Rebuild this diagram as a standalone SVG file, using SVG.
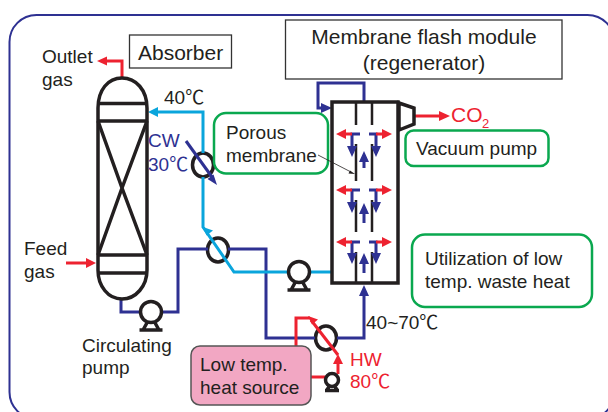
<svg xmlns="http://www.w3.org/2000/svg" width="608" height="412" viewBox="0 0 608 412">
<style>
text{font-family:"Liberation Sans","Noto Sans CJK JP",Arial,sans-serif;font-size:19px;fill:#231f20}
.t{font-size:21px}
.b{fill:none;stroke:#231f20;stroke-width:3.500}
.n{fill:none;stroke:#2e3192;stroke-width:3}
.c{fill:none;stroke:#0aa5dc;stroke-width:3}
.r{fill:none;stroke:#ed2230;stroke-width:3}
.g{fill:#fff;stroke:#0aa84f;stroke-width:2.500}
.nf{fill:#2e3192}.cf{fill:#0aa5dc}.rf{fill:#ed2230}
.box{fill:#fff;stroke:#333;stroke-width:1.300}
.nt{fill:#2e3192}.rt{fill:#ed2230}
.x{fill:#fff;stroke:#231f20;stroke-width:3.500}
</style>
<defs>
<g id="pump"><path d="M-8 18L-3 9M8 18L3 9M-11.500 18H11.500" class="b"/><circle r="10.500" class="x"/></g>
</defs>
<rect x="9.500" y="15" width="605" height="404" rx="27" fill="none" stroke="#2e3192" stroke-width="2"/>
<g id="exchanger-cw"><ellipse cx="203" cy="165" rx="10.500" ry="12" class="x"/></g>
<g id="exchanger-mid"><ellipse cx="218" cy="250" rx="10.500" ry="12" class="x"/></g>
<g id="exchanger-hw"><ellipse cx="326" cy="338" rx="10.500" ry="12" class="x"/></g>
<g id="connectors">
<path class="r" d="M122 79V61H104"/><path class="rf" d="M97 61l10-4.500v9z"/>
<path class="r" d="M66 263H88"/><path class="rf" d="M96 263l-10-5v10z"/>
<path class="n" d="M121 299V312H178V249H208M228 249H266V338H315M337 338H364V294"/><path class="nf" d="M364 285l-5 11h10z"/>
<path class="c" d="M203 153V112H155M203 177V227L234 272H332"/><path class="cf" d="M148 112l10-5v10z"/><path class="cf" d="M203 227l10 3.500-6.500 5z"/>
<path class="n" d="M186 141L212 177"/><path class="nf" d="M217 185l-9.500-6 6-4.500z"/>
<path class="n" d="M364 101V83H318V108H325"/><path class="nf" d="M332 108l-11-5v10z"/>
<path class="r" d="M296 346V318H310"/>
<path class="r" d="M338 355L311 320"/><path class="rf" d="M308 316l10 3.500-6 5z"/>
<path class="r" d="M311 377H326"/>
<path class="r" d="M338 374V360"/><path class="rf" d="M338 354l-5 10h10z"/>
<path class="r" d="M414 116H442"/><path class="rf" d="M450 116l-11-5v10z"/>
</g>
<g id="absorber">
<path d="M98 108C98 90 108 78 122 78C136 78 147 90 147 108V270C147 286 136 299 122 299C108 299 98 286 98 270Z" class="b"/>
<path class="b" d="M98 103.500H147M98 121H147M98 255H147M98 273H147M98 121L122 188L147 255M147 121L122 188L98 255"/>
</g>
<g id="circulating-pump"><use href="#pump" x="151" y="312"/></g>
<g id="lean-pump"><use href="#pump" x="299" y="272"/></g>
<g id="hw-pump"><path d="M-5 10L-2 5M5 10L2 5M-7 10.500H7" class="b" transform="translate(332 380)"/><circle cx="332" cy="380" r="6.500" class="x"/></g>
<g id="porous-membrane"><rect class="g" x="214" y="113" width="114" height="60.500" rx="12"/><text x="226" y="138.500">Porous</text><text x="226" y="162">membrane</text></g>
<g id="vacuum-label"><rect class="g" x="405.500" y="130.500" width="143" height="35.500" rx="8"/><text x="416" y="155">Vacuum pump</text></g>
<g id="membrane-module">
<rect x="332" y="102" width="66" height="181" fill="none" stroke="#231f20" stroke-width="3.500"/>
<path d="M356 103V125M372 103V125M356 144V181M372 144V181M356 200V232M372 200V232M356 252V283M372 252V283" stroke="#231f20" stroke-width="2.500" fill="none"/>
<g id="module-flows">
<path class="n" d="M360 134H352V148M369 134H376V148M360 190H352V204M369 190H376V204M360 242H352V255M369 242H376V255M364 168V160M364 223V212M364 273V262"/>
<path class="nf" d="M347 146h10l-5 11zM371 146h10l-5 11zM347 202h10l-5 11zM371 202h10l-5 11zM347 253h10l-5 11zM371 253h10l-5 11zM359 162h10l-5-11zM359 214h10l-5-11zM359 264h10l-5-11z"/>
<path class="r" d="M352 134H344M376 134H384M352 190H344M376 190H384M352 242H344M376 242H384"/>
<path class="rf" d="M336 134l10-5v10zM392 134l-10-5v10zM336 190l10-5v10zM392 190l-10-5v10zM336 242l10-5v10zM392 242l-10-5v10z"/>
</g>
</g>
<g id="vacuum-pump"><path d="M399 103L414 108V124L399 130Z" fill="#fff" stroke="#231f20" stroke-width="3.500"/></g>
<g id="absorber-label"><rect class="box" x="129.500" y="35" width="102" height="33"/><text class="t" x="138" y="60">Absorber</text></g>
<g id="module-label"><rect class="box" x="285.500" y="20" width="276.500" height="59"/><text class="t" x="424" y="44" text-anchor="middle">Membrane flash module</text><text class="t" x="424" y="70" text-anchor="middle">(regenerator)</text></g>
<g id="waste-heat"><rect class="g" x="412" y="234.500" width="180" height="72.500" rx="13"/><text x="425" y="265">Utilization of low</text><text x="425" y="288">temp. waste heat</text></g>
<g id="heat-source"><rect x="191" y="346" width="120" height="59" rx="9" fill="#f2a7c3" stroke="#555" stroke-width="1.500"/><text x="200" y="371">Low temp.</text><text x="200" y="394">heat source</text></g>
<path d="M318 155L351 172" stroke="#231f20" stroke-width="0.800" fill="none"/><path d="M355 174l-6.500-.5 1.500-3z" fill="#231f20"/>
<text x="42" y="63">Outlet</text><text x="42" y="86">gas</text>
<text x="164" y="104">40℃</text>
<text class="nt" x="148" y="147">CW</text><text class="nt" x="148" y="171">30℃</text>
<text x="24" y="255">Feed</text><text x="24" y="278">gas</text>
<text x="82" y="352">Circulating</text><text x="82" y="374">pump</text>
<text x="366" y="329">40~70℃</text>
<text class="rt" x="350" y="366">HW</text><text class="rt" x="350" y="388">80℃</text>
<text class="rt t" x="451" y="122">CO</text><text class="rt" x="482" y="128" style="font-size:13px">2</text>
</svg>
